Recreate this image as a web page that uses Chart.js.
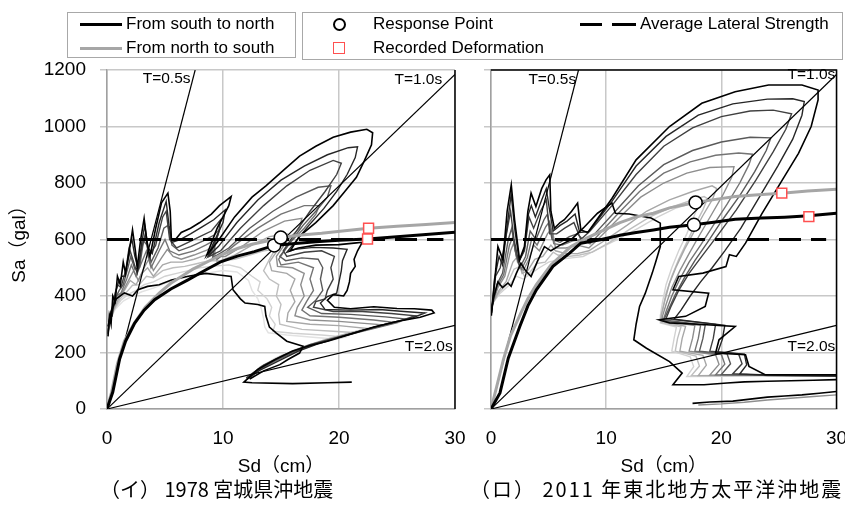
<!DOCTYPE html>
<html>
<head>
<meta charset="utf-8">
<script src="https://cdn.jsdelivr.net/npm/chart.js@4.4.1/dist/chart.umd.min.js"></script>
<style>
  body { margin: 0; width: 845px; height: 506px; overflow: hidden; background: #fff; position: relative;
         font-family: 'Liberation Sans', Arial, sans-serif; }
  canvas { position: absolute; top: 0; }
  #left { left: 0; }
  #right { left: 470px; }
  .box { position: absolute; border: 1.5px solid #a8a8a8; box-sizing: border-box; }
  .txt { position: absolute; font-size: 17px; line-height: 20px; white-space: nowrap; }
  .ln { position: absolute; height: 3px; }
  .cap { position: absolute; top: 476px; font-family: 'Noto Sans CJK JP', sans-serif; font-size: 20px; line-height: 26px; white-space: nowrap; }
</style>
</head>
<body>
<canvas id="left" width="470" height="480"></canvas>
<canvas id="right" width="375" height="480"></canvas>

<div class="box" style="left:67px;top:12px;width:229px;height:46px"></div>
<div class="ln" style="left:80px;top:23px;width:42px;background:#000"></div>
<div class="txt" style="left:126px;top:14px">From south to north</div>
<div class="ln" style="left:80px;top:47px;width:42px;background:#a6a6a6"></div>
<div class="txt" style="left:126px;top:38px">From north to south</div>

<div class="box" style="left:302px;top:12px;width:541px;height:48px"></div>
<div style="position:absolute;left:333px;top:18px;width:9px;height:9px;border:2px solid #000;border-radius:50%"></div>
<div class="txt" style="left:373px;top:14px">Response Point</div>
<div style="position:absolute;left:333px;top:42px;width:10px;height:10px;border:1.5px solid #ff5050"></div>
<div class="txt" style="left:373px;top:38px">Recorded Deformation</div>
<div class="ln" style="left:580px;top:23px;width:22px;background:#000"></div>
<div class="ln" style="left:612px;top:23px;width:24px;background:#000"></div>
<div class="txt" style="left:640px;top:14px">Average Lateral Strength</div>

<div class="cap" style="left:100px">（イ） 1978 宮城県沖地震</div>
<div class="cap" style="left:470px;letter-spacing:2px">（ロ） 2011 年東北地方太平洋沖地震</div>

<script>
// tick values
const xTicks = [0, 10, 20, 30];
const yTicks = [0, 200, 400, 600, 800, 1000, 1200];

// equal-period lines (Sd, Sa)
const lineT05 = [[0, 0], [7.6, 1200]];
const lineT10 = [[0, 0], [30, 1184]];
const lineT20 = [[0, 0], [30, 296]];

// average lateral strength
const avgLeft = [[0, 600], [29, 600]];
const avgRight = [[0, 600], [29.1, 600]];

// ---- (イ) 1978 ----
const capSNLeft = [[0,0],[0.5,60],[1.09,177],[1.6,240],[2.39,304],[3.2,350],[4.11,387],[5.5,425],[6.98,457],[8.5,492],[9.86,522],[11.3,542],[12.7,557],[14.41,579],[16,585],[18,592],[20,597],[22.46,602],[25,610],[27.5,618],[30,626]];
const capNSLeft = [[0,0],[0.4,60],[0.9,160],[1.5,240],[2.3,300],[3.3,360],[4.5,410],[5.5,445],[6.41,469],[7.4,495],[8.42,516],[9.8,545],[11.3,569],[12.5,583],[13.6,593],[14.98,607],[16.5,615],[18.5,622],[20.5,631],[22.55,640],[25,647],[27.5,653],[30,660]];
const respLeft = [[14.41, 579], [14.98, 607]];
const recLeft = [[22.46, 602], [22.55, 640]];

const dLeft1 = [[0.09,257],[0.2,330],[0.35,300],[0.5,400],[0.7,380],[0.9,470],[1.15,440],[1.4,520],[1.6,480],[2.0,580],[2.2,634],[2.45,560],[2.6,500],[2.9,600],[3.2,675],[3.45,590],[3.7,540],[4.2,640],[4.7,730],[5.25,764],[5.45,700],[5.55,600],[5.9,600],[6.4,625],[7.2,640],[8.0,660],[9.0,690],[9.7,720],[10.7,752],[10.5,720],[9.5,640],[8.6,545],[9.5,590],[11.0,680],[12.5,750],[13.7,790],[15.2,845],[16.6,895],[18.0,930],[19.5,962],[21.0,980],[22.4,990],[22.9,978],[22.8,935],[22.2,880],[21.5,820],[20.5,770],[19.5,720],[18.0,660],[16.6,612],[15.8,560],[16.5,570],[18.0,580],[20.0,582],[21.5,588],[22.0,590],[21.6,560],[21.3,530],[21.4,505],[21.0,480],[20.9,450],[20.7,420],[20.4,400],[19.5,405],[19.0,385],[19.6,360],[21.0,355],[23.0,362],[25.0,356],[26.5,355],[28.0,350],[28.2,340],[27.0,325],[25.0,310],[23.0,290],[21.0,265],[19.0,240],[17.5,225],[16.0,205],[14.5,175],[13.0,140],[11.8,95],[12.5,93],[16.0,90],[19.0,93],[21.1,95]];
const dLeft1b = [[0.1,265],[0.25,335],[0.45,330],[0.7,410],[1.0,450],[1.3,470],[1.55,470],[1.9,570],[2.15,600],[2.4,540],[2.7,500],[3.0,590],[3.25,650],[3.55,570],[3.9,550],[4.5,660],[5.1,735],[5.35,650],[5.6,590],[6.3,600],[7.2,620],[8.2,645],[9.2,670],[10.2,705],[10.0,660],[9.1,580],[8.7,540],[9.6,575],[11.2,660],[13.0,740],[15.0,810],[17.0,860],[19.0,900],[20.8,925],[21.6,928],[21.4,890],[20.7,830],[19.8,770],[18.7,710],[17.4,650],[16.2,590],[15.5,555],[16.2,565],[17.8,572],[19.5,570],[20.7,565],[20.3,525],[20.2,490],[20.0,450],[19.8,410],[19.0,398],[18.4,375],[18.8,352],[21.0,350],[23.5,352],[25.6,345],[27.4,340],[26.3,322],[24.2,302],[22.2,280],[20.2,256],[18.3,232],[16.5,205],[14.8,170],[13.2,138],[12.0,103]];
const dLeft2 = [[0.1,270],[0.3,340],[0.6,380],[0.9,440],[1.2,430],[1.6,490],[2.0,560],[2.3,520],[2.6,480],[3.0,570],[3.3,620],[3.6,540],[4.2,580],[4.8,680],[5.1,700],[5.4,600],[6.0,570],[7.0,590],[8.0,610],[9.0,630],[9.8,670],[9.6,620],[8.8,540],[9.8,560],[11.5,640],[13.5,720],[15.5,790],[17.5,845],[19.5,880],[20.2,870],[19.8,830],[18.8,770],[17.5,700],[16.5,640],[15.2,560],[15.5,540],[17.0,555],[18.5,560],[19.6,540],[19.3,500],[19.5,460],[19.0,420],[18.8,390],[18.0,380],[17.8,360],[19.5,345],[22.0,345],[24.5,338],[26.6,330],[25.5,315],[23.5,295],[21.5,272],[19.5,250],[17.5,228],[15.5,195],[13.5,155],[12.0,110]];
const dLeft2b = [[0.1,275],[0.35,340],[0.7,390],[1.05,420],[1.4,440],[1.8,500],[2.05,540],[2.4,495],[2.8,500],[3.15,595],[3.45,580],[3.8,520],[4.4,570],[4.9,640],[5.25,650],[5.6,580],[6.2,560],[7.2,575],[8.3,595],[9.2,615],[9.7,635],[9.3,580],[9.1,535],[10.5,570],[12.3,640],[14.3,700],[16.3,750],[18.2,785],[19.3,790],[19.0,750],[18.0,700],[16.9,650],[15.8,590],[14.9,540],[15.4,525],[16.8,535],[18.2,530],[18.6,500],[18.4,460],[18.6,420],[18.0,385],[17.3,360],[18.5,338],[21.0,335],[24.0,326],[25.8,318],[24.5,302],[22.5,282],[20.5,260],[18.5,237],[16.5,208],[14.5,172],[12.8,130],[12.05,109]];
const dLeft3 = [[0.1,280],[0.4,340],[0.8,400],[1.2,410],[1.7,460],[2.1,510],[2.5,470],[3.0,520],[3.4,560],[3.8,500],[4.5,560],[5.0,600],[5.4,560],[6.2,545],[7.5,560],[8.5,580],[9.4,600],[9.0,550],[9.5,530],[11.0,580],[13.0,640],[15.0,690],[17.0,720],[18.3,720],[18.0,690],[17.0,640],[15.8,590],[14.8,530],[15.0,510],[16.5,520],[17.8,500],[17.5,460],[17.8,420],[17.2,380],[16.8,350],[17.5,330],[20.0,325],[23.0,315],[25.0,305],[23.5,290],[21.5,270],[19.5,248],[17.5,225],[15.5,190],[13.5,150],[12.1,108]];
const dLeft3b = [[0.1,285],[0.45,342],[0.9,395],[1.35,415],[1.85,455],[2.3,490],[2.7,455],[3.2,500],[3.6,530],[4.0,490],[4.7,535],[5.2,565],[5.7,540],[6.4,530],[7.5,545],[8.6,562],[9.3,578],[9.3,540],[10.2,540],[11.8,580],[13.5,630],[15.3,665],[16.8,675],[16.6,640],[15.6,600],[14.6,540],[14.7,505],[16.0,500],[17.0,480],[16.7,440],[17.0,400],[16.4,360],[16.2,330],[17.5,315],[20.0,310],[23.8,298],[22.3,280],[20.3,259],[18.3,236],[16.3,206],[14.3,168],[12.7,128],[12.15,108]];
const dLeft4 = [[0.1,290],[0.5,345],[1.0,390],[1.5,420],[2.0,455],[2.5,440],[3.0,480],[3.5,500],[4.0,470],[4.8,510],[5.5,520],[6.5,520],[7.5,530],[8.5,545],[9.2,555],[9.5,520],[11.0,545],[12.5,580],[14.0,610],[15.5,620],[15.0,580],[14.0,520],[14.2,490],[15.5,480],[16.2,460],[15.8,420],[16.2,380],[15.6,340],[15.5,310],[17.5,300],[20.0,295],[22.5,285],[21.0,270],[19.0,248],[17.0,222],[15.0,188],[13.2,148],[12.2,108]];
const dLeft4b = [[0.1,295],[0.55,348],[1.1,388],[1.65,412],[2.2,438],[2.8,440],[3.4,470],[4.0,465],[4.8,490],[5.7,500],[6.7,505],[7.8,515],[8.8,525],[9.8,525],[11.0,530],[12.3,545],[13.5,560],[14.5,565],[14.0,530],[13.5,490],[14.0,460],[14.8,440],[14.6,400],[15.0,370],[14.8,335],[14.9,300],[16.8,282],[19.5,275],[21.5,270],[20.0,255],[18.0,233],[16.0,203],[14.2,166],[12.8,128],[12.25,108]];
const dLeft5 = [[0.1,300],[0.6,350],[1.2,385],[1.8,405],[2.5,420],[3.2,440],[4.0,450],[5.0,470],[6.0,480],[7.0,490],[8.0,500],[9.0,505],[10.5,510],[11.5,500],[12.5,470],[13.2,450],[13.0,420],[13.8,390],[14.2,360],[14.0,330],[14.5,300],[14.3,275],[16.0,268],[18.5,262],[20.5,255],[19.0,240],[17.0,218],[15.0,185],[13.3,148],[12.3,108]];
const dLeft5b = [[0.1,305],[0.7,352],[1.4,382],[2.2,400],[3.0,415],[4.0,428],[5.0,445],[6.0,458],[7.2,470],[8.5,480],[10.0,490],[11.2,485],[12.2,455],[12.5,420],[13.0,390],[13.3,355],[13.5,320],[13.6,290],[13.9,270],[15.5,262],[17.5,255],[19.5,248],[18.0,232],[16.2,210],[14.5,180],[13.2,148],[12.4,108]];
const dLeft6 = [[0.09,292],[0.37,345],[0.8,390],[1.5,411],[2.2,400],[2.67,422],[3.5,434],[4.5,440],[5.55,457],[7.0,470],[8.5,480],[9.5,475],[10.7,469],[10.86,422],[11.5,390],[11.9,375],[13.0,370],[13.6,363],[13.7,330],[14.0,290],[14.6,269],[15.5,240],[16.9,222],[16.6,198],[15.6,175],[14.9,157],[13.5,135],[12.3,106]];

// ---- (ロ) 2011 ----
const capSNRight = [[0,0],[0.78,57],[1.5,180],[2.5,292],[3.2,365],[3.94,422],[5.38,505],[6.82,552],[7.8,587],[9.5,599],[11.2,615],[12.6,625],[14.1,634],[15.5,643],[17.62,652],[19.5,662],[21.2,672],[23.5,676],[25.5,679],[27.6,684],[30,693]];
const capNSRight = [[0,0],[0.5,80],[1.07,174],[1.7,260],[2.6,340],[3.2,390],[3.94,440],[5.2,510],[6.94,575],[8.3,605],[9.83,634],[11.2,660],[12.6,680],[14.1,693],[15.5,712],[17.77,731],[19.5,742],[21.2,752],[23.2,758],[25.25,764],[27.5,772],[30,778]];
const respRight = [[17.62, 652], [17.77, 731]];
const recRight = [[27.6, 681], [25.25, 764]];

const dRight1 = [[0.03,330],[0.17,387],[0.6,575],[1.04,528],[1.4,700],[1.76,793],[2.05,670],[2.48,528],[2.9,575],[3.2,700],[3.48,764],[3.9,717],[4.4,780],[4.78,811],[5.1,829],[5.2,700],[5.5,640],[6.0,660],[6.37,670],[7.0,700],[7.52,729],[7.8,634],[8.4,625],[10.5,745],[12.6,882],[15.5,1000],[18.3,1082],[21.2,1123],[24.1,1147],[27.0,1147],[28.4,1129],[28.4,1094],[27.8,1000],[26.7,905],[25.3,811],[23.5,690],[22.1,587],[21.3,540],[20.7,546],[20.4,504],[18.4,481],[16.3,469],[15.8,422],[18.9,410],[18.6,363],[16.9,328],[14.6,316],[15.5,305],[18,300],[21.2,292],[19.8,245],[19.5,198],[22.1,192],[22.4,151],[23.8,121],[27,121],[30,121]];
const dRight1b = [[0.04,340],[0.3,460],[0.7,540],[1.0,510],[1.5,680],[1.75,760],[2.05,640],[2.45,525],[2.9,565],[3.25,690],[3.5,720],[3.85,680],[4.4,740],[4.8,780],[5.1,700],[5.4,630],[6.0,650],[6.6,665],[7.3,690],[7.7,625],[8.5,628],[10.5,735],[12.6,860],[15.2,965],[18.0,1040],[21.0,1080],[24.0,1097],[26.2,1098],[27.2,1088],[27.0,1040],[26.2,955],[24.9,860],[23.3,750],[21.7,640],[20.3,560],[19.2,500],[18.2,450],[17.3,400],[16.5,350],[15.9,318],[20.3,296],[20.1,248],[19.7,202],[22.0,194],[22.2,156],[21.6,124],[25,119],[30,118]];
const dRight2 = [[0.05,350],[0.4,470],[0.8,500],[1.3,610],[1.7,700],[2.0,600],[2.4,520],[2.9,560],[3.3,680],[3.7,640],[4.3,700],[4.8,740],[5.1,620],[5.7,620],[6.4,640],[7.2,660],[7.8,600],[8.6,630],[10.5,720],[12.6,830],[15.0,930],[17.5,995],[20.0,1035],[22.5,1055],[24.5,1058],[26.1,1045],[25.6,990],[24.5,910],[23.0,810],[21.3,705],[19.6,610],[18.3,540],[17.2,480],[16.3,420],[15.6,360],[15.2,320],[19.5,300],[19.3,250],[19.0,205],[21.5,195],[21.8,160],[21.0,125],[24,118],[30,116]];
const dRight3 = [[0.05,355],[0.5,440],[1.0,480],[1.5,600],[1.8,640],[2.1,560],[2.5,500],[3.0,540],[3.4,630],[3.9,600],[4.6,670],[4.9,690],[5.3,600],[6.0,590],[6.8,610],[7.5,620],[8.2,590],[9.0,620],[10.8,700],[12.8,790],[15.0,865],[17.5,915],[20.0,945],[22.5,962],[24.3,960],[23.9,915],[22.9,840],[21.6,755],[20.1,670],[18.8,590],[17.7,525],[16.8,465],[16.0,405],[15.4,350],[15.0,315],[18.6,297],[18.4,250],[18.1,205],[20.5,195],[20.8,160],[20.0,122],[30,118]];
const dRight3b = [[0.05,358],[0.55,435],[1.1,475],[1.6,580],[1.9,610],[2.2,540],[2.65,495],[3.15,535],[3.55,605],[4.0,580],[4.75,645],[5.1,665],[5.45,585],[6.2,580],[7.1,595],[8.0,600],[8.6,585],[9.3,615],[11.0,690],[12.9,770],[15.0,835],[17.3,875],[19.5,898],[21.5,906],[22.7,902],[22.4,865],[21.6,800],[20.5,725],[19.3,650],[18.2,580],[17.2,520],[16.4,460],[15.7,400],[15.2,345],[14.95,313],[18.2,296],[18.0,250],[17.7,205],[20.0,193],[20.3,159],[19.5,121],[30,119]];
const dRight4 = [[0.05,360],[0.6,430],[1.2,470],[1.7,560],[2.0,590],[2.3,520],[2.8,490],[3.3,530],[3.7,580],[4.2,560],[4.9,620],[5.3,640],[5.6,570],[6.5,570],[7.5,580],[8.5,570],[9.5,610],[11.2,680],[13.0,750],[15.0,800],[17.0,835],[19.0,855],[21.1,858],[20.9,820],[20.1,755],[19.1,685],[18.1,615],[17.2,550],[16.4,490],[15.7,430],[15.2,370],[14.9,330],[14.9,312],[17.7,295],[17.5,250],[17.2,205],[19.5,192],[19.8,158],[19.0,120],[30,120]];
const dRight5 = [[0.05,365],[0.7,420],[1.3,450],[1.9,520],[2.3,540],[2.7,480],[3.2,490],[3.8,530],[4.5,540],[5.2,580],[5.6,560],[6.5,550],[7.5,550],[8.5,560],[10.0,600],[11.8,650],[13.5,700],[15.5,740],[17.5,770],[19.2,790],[19.6,780],[19.2,740],[18.4,685],[17.6,625],[16.8,565],[16.1,505],[15.5,445],[15.1,385],[14.8,335],[14.8,310],[16.9,293],[16.6,250],[16.4,205],[18.4,190],[18.7,155],[18.0,118],[30,121]];
const dRight5b = [[0.05,368],[0.75,415],[1.4,442],[2.0,495],[2.5,505],[2.9,470],[3.4,485],[4.0,515],[4.7,520],[5.4,555],[5.8,545],[6.7,540],[7.7,545],[8.8,555],[10.3,590],[12.0,635],[13.8,680],[15.7,715],[17.5,740],[18.5,752],[18.8,745],[18.4,705],[17.7,650],[17.0,590],[16.3,530],[15.7,470],[15.2,410],[14.9,350],[14.7,318],[14.75,306],[16.5,291],[16.2,250],[16.0,205],[17.8,187],[18.1,152],[17.4,118],[30,120]];
const dRight6 = [[0.05,370],[0.8,410],[1.5,435],[2.2,470],[2.8,460],[3.5,480],[4.2,500],[5.0,520],[6.0,530],[7.0,535],[8.0,540],[9.5,570],[11.0,600],[12.8,640],[14.5,680],[16.0,710],[17.2,725],[18.0,720],[17.6,680],[17.0,620],[16.3,560],[15.7,500],[15.2,440],[14.9,380],[14.7,330],[14.7,305],[16.1,290],[15.9,250],[15.7,205],[17.3,185],[17.6,150],[17.0,115],[30,118]];
const dRight7 = [[0.03,340],[0.2,390],[0.6,450],[1.0,430],[1.47,446],[1.75,434],[2.2,480],[2.6,516],[3.0,490],[3.48,469],[4.0,520],[4.64,575],[5.2,560],[6.0,580],[6.94,599],[8.0,640],[9.25,693],[10.5,729],[10.8,693],[12.0,690],[13.9,676],[14.7,658],[14.7,575],[14.3,520],[14.0,481],[13.4,410],[12.9,363],[12.6,300],[12.4,245],[13.5,215],[15.5,168],[16.6,127],[15.8,86],[18.5,86],[20.5,92],[22,96],[24,98],[26,100],[28,102],[30,104]];
const dRight8 = [[17.5,20],[19,25],[21,28],[22.5,35],[24,42],[25.5,46],[27,50],[28.5,56],[30,62]];
const dRight9 = [[18,14],[20,18],[22,24],[24,32],[26,38],[28,44],[30,50]];

function pts(arr) { return arr.map(p => ({ x: p[0], y: p[1] })); }

function curve(arr, color, width, order, dash) {
  return { data: pts(arr), showLine: true, borderColor: color, borderWidth: width,
           pointRadius: 0, fill: false, tension: 0, order: order, borderDash: dash || [] };
}

function marks(arr, style) {
  if (style === 'circle') {
    return { data: pts(arr), showLine: false, pointStyle: 'circle', pointRadius: 6.5,
             pointBackgroundColor: '#fff', pointBorderColor: '#000', pointBorderWidth: 1.5, order: 0 };
  }
  return { data: pts(arr), showLine: false, pointStyle: 'rect', pointRadius: 7,
           pointBackgroundColor: '#fff', pointBorderColor: '#ff5050', pointBorderWidth: 1.5, order: 0 };
}

// black right edge / top edge and the T= labels
const framePlugin = {
  id: 'frame',
  afterDraw(chart, args, o) {
    const { ctx, chartArea: a, scales } = chart;
    ctx.save();
    ctx.strokeStyle = '#000';
    ctx.lineWidth = 1.5;
    ctx.beginPath();
    ctx.moveTo(a.right, a.bottom);
    ctx.lineTo(a.right, a.top);
    if (o.topBlack) ctx.lineTo(a.left, a.top);
    ctx.stroke();
    ctx.font = '15.5px "Liberation Sans", Arial, sans-serif';
    ctx.fillStyle = '#000';
    ctx.textBaseline = 'middle';
    ctx.textAlign = 'right';
    o.labels.forEach(l => {
      ctx.fillText(l.text, scales.x.getPixelForValue(l.sd), scales.y.getPixelForValue(l.sa));
    });
    ctx.restore();
  }
};

function makeChart(id, datasets, cfg) {
  return new Chart(document.getElementById(id), {
    type: 'scatter',
    data: { datasets: datasets },
    plugins: [framePlugin],
    options: {
      responsive: false,
      animation: false,
      layout: { padding: { top: 70, right: cfg.padRight, left: 0, bottom: 0 } },
      plugins: {
        legend: { display: false },
        tooltip: { enabled: false },
        frame: { topBlack: cfg.topBlack, labels: cfg.labels }
      },
      scales: {
        x: {
          type: 'linear', min: 0, max: 30,
          afterBuildTicks: s => { s.ticks = xTicks.map(v => ({ value: v })); },
          afterFit: s => { s.height = 71; s.paddingLeft = 0; s.paddingRight = 0; },
          ticks: { font: { size: 19, family: 'Liberation Sans' }, color: '#000', padding: 18 },
          grid: { color: '#c8c8c8', lineWidth: 1.5, drawTicks: false },
          border: { color: '#a0a0a0', width: 1.5 },
          title: { display: true, text: 'Sd（cm）', color: '#000',
                   font: { size: 19, family: "'Liberation Sans', 'Noto Sans CJK JP'" }, padding: { top: 0, bottom: 2 } }
        },
        y: {
          type: 'linear', min: 0, max: 1200,
          afterBuildTicks: s => { s.ticks = yTicks.map(v => ({ value: v })); },
          afterFit: s => { s.width = cfg.yWidth; s.paddingTop = 0; s.paddingBottom = 0; },
          ticks: { font: { size: 19, family: 'Liberation Sans' }, color: '#000', padding: 14,
                   callback: v => cfg.yLabels ? v : '' },
          grid: { color: '#c8c8c8', lineWidth: 1.5, tickLength: 7 },
          border: { color: '#a0a0a0', width: 1.5 },
          title: { display: cfg.yLabels, text: 'Sa（gal）', color: '#000',
                   font: { size: 19, family: "'Liberation Sans', 'Noto Sans CJK JP'" }, padding: { top: 8, bottom: 0 } }
        }
      }
    }
  });
}

makeChart('left', [
  marks(respLeft, 'circle'),
  marks(recLeft, 'rect'),
  curve(capSNLeft, '#000', 3, 1),
  curve(capNSLeft, '#a6a6a6', 3, 1),
  curve(avgLeft, '#000', 3, 2, [22, 10]),
  curve(lineT05, '#000', 1.2, 3),
  curve(lineT10, '#000', 1.2, 3),
  curve(lineT20, '#000', 1.2, 3),
  curve(dLeft6, '#000000', 1.6, 9),
  curve(dLeft1, '#000000', 1.6, 10),
  curve(dLeft1b, '#262626', 1.4, 11),
  curve(dLeft2, '#404040', 1.4, 12),
  curve(dLeft2b, '#5a5a5a', 1.4, 13),
  curve(dLeft3, '#747474', 1.4, 14),
  curve(dLeft3b, '#8e8e8e', 1.4, 15),
  curve(dLeft4, '#a8a8a8', 1.4, 16),
  curve(dLeft4b, '#bfbfbf', 1.4, 17),
  curve(dLeft5, '#d2d2d2', 1.4, 18),
  curve(dLeft5b, '#e2e2e2', 1.4, 19)
], {
  padRight: 15, yWidth: 107, yLabels: true, topBlack: false,
  labels: [
    { text: 'T=0.5s', sd: 7.2, sa: 1168 },
    { text: 'T=1.0s', sd: 28.9, sa: 1165 },
    { text: 'T=2.0s', sd: 29.8, sa: 222 }
  ]
});

makeChart('right', [
  marks(respRight, 'circle'),
  marks(recRight, 'rect'),
  curve(capSNRight, '#000', 3, 1),
  curve(capNSRight, '#a6a6a6', 3, 1),
  curve(avgRight, '#000', 3, 2, [22, 10]),
  curve(lineT05, '#000', 1.2, 3),
  curve(lineT10, '#000', 1.2, 3),
  curve(lineT20, '#000', 1.2, 3),
  curve(dRight7, '#000000', 1.6, 9),
  curve(dRight8, '#000000', 1.6, 9),
  curve(dRight1, '#000000', 1.6, 10),
  curve(dRight1b, '#262626', 1.4, 11),
  curve(dRight2, '#404040', 1.4, 12),
  curve(dRight3, '#5a5a5a', 1.4, 13),
  curve(dRight3b, '#747474', 1.4, 14),
  curve(dRight4, '#8e8e8e', 1.4, 15),
  curve(dRight9, '#8e8e8e', 1.4, 15),
  curve(dRight5, '#a8a8a8', 1.4, 16),
  curve(dRight5b, '#bfbfbf', 1.4, 17),
  curve(dRight6, '#d2d2d2', 1.4, 18)
], {
  padRight: 7, yWidth: 21, yLabels: false, topBlack: true,
  labels: [
    { text: 'T=0.5s', sd: 7.4, sa: 1165 },
    { text: 'T=1.0s', sd: 29.9, sa: 1182 },
    { text: 'T=2.0s', sd: 29.9, sa: 222 }
  ]
});
</script>
</body>
</html>
